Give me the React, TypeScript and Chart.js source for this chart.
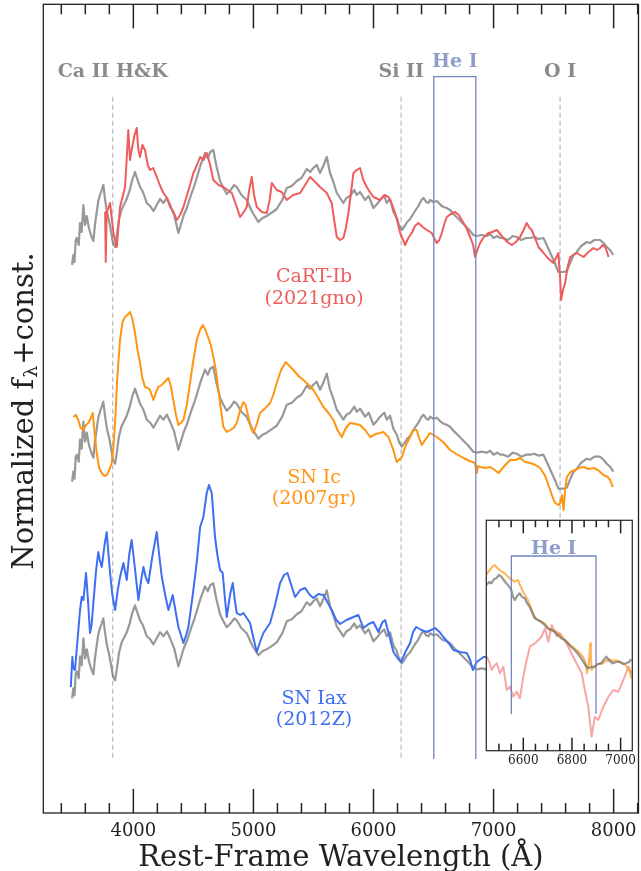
import React, { useEffect, useRef } from 'react';
import { Chart, registerables } from 'chart.js';

Chart.register(...registerables);

const SERIF = '"DejaVu Serif", "Liberation Serif", serif';

// ---------------- main panel data ----------------
// comparison spectrum (gray), wavelength in Angstrom, normalized flux (top copy)
const grayWave = [3490, 3500, 3510, 3520, 3529, 3545, 3556, 3570, 3584, 3598, 3612, 3630, 3650, 3667, 3680, 3695, 3708, 3722, 3737, 3750, 3765, 3780, 3800, 3815, 3830, 3848, 3862, 3880, 3900, 3920, 3945, 3970, 3990, 4014, 4030, 4056, 4080, 4112, 4140, 4167, 4195, 4222, 4250, 4280, 4306, 4340, 4375, 4395, 4420, 4445, 4480, 4510, 4528, 4560, 4597, 4620, 4640, 4666, 4690, 4722, 4750, 4778, 4810, 4840, 4861, 4900, 4944, 4990, 5041, 5075, 5111, 5160, 5194, 5240, 5278, 5320, 5361, 5400, 5444, 5472, 5499, 5527, 5555, 5585, 5611, 5638, 5666, 5694, 5722, 5749, 5775, 5805, 5840, 5860, 5888, 5930, 5960, 5999, 6030, 6055, 6090, 6110, 6138, 6166, 6194, 6215, 6236, 6260, 6280, 6305, 6340, 6374, 6400, 6416, 6440, 6458, 6471, 6499, 6527, 6560, 6582, 6610, 6638, 6666, 6700, 6749, 6790, 6832, 6860, 6900, 6943, 6971, 7000, 7030, 7055, 7082, 7120, 7160, 7193, 7230, 7270, 7304, 7340, 7375, 7415, 7450, 7480, 7510, 7540, 7560, 7582, 7610, 7640, 7666, 7693, 7730, 7776, 7804, 7840, 7887, 7915, 7943, 7970, 7998];
const grayFlux = [5.48, 5.58, 5.51, 5.73, 5.75, 5.68, 5.90, 5.81, 6.08, 5.88, 5.97, 5.85, 5.77, 5.72, 5.88, 6.01, 6.12, 6.18, 6.23, 6.28, 6.13, 6.01, 5.91, 5.81, 5.70, 5.66, 5.77, 5.93, 6.03, 6.08, 6.14, 6.23, 6.33, 6.41, 6.35, 6.26, 6.21, 6.10, 6.07, 6.02, 6.08, 6.14, 6.10, 6.15, 6.08, 5.98, 5.80, 5.88, 5.98, 6.05, 6.18, 6.28, 6.35, 6.48, 6.60, 6.55, 6.61, 6.63, 6.48, 6.32, 6.25, 6.19, 6.23, 6.28, 6.26, 6.18, 6.13, 6.01, 5.91, 5.95, 5.97, 6.01, 6.04, 6.13, 6.25, 6.27, 6.32, 6.35, 6.44, 6.41, 6.45, 6.48, 6.40, 6.48, 6.56, 6.40, 6.31, 6.20, 6.15, 6.10, 6.15, 6.17, 6.23, 6.18, 6.21, 6.13, 6.17, 6.05, 6.09, 6.13, 6.17, 6.10, 6.14, 6.01, 5.95, 5.87, 5.83, 5.87, 5.91, 5.94, 6.01, 6.07, 6.13, 6.15, 6.11, 6.10, 6.13, 6.11, 6.12, 6.08, 6.06, 6.05, 6.03, 5.99, 5.95, 5.89, 5.84, 5.78, 5.77, 5.78, 5.77, 5.79, 5.75, 5.77, 5.75, 5.75, 5.73, 5.77, 5.76, 5.73, 5.75, 5.75, 5.76, 5.74, 5.75, 5.66, 5.58, 5.50, 5.41, 5.41, 5.41, 5.42, 5.51, 5.58, 5.61, 5.67, 5.71, 5.70, 5.73, 5.73, 5.70, 5.66, 5.63, 5.58];
// constants added to the gray spectrum for each comparison row
const grayOffsets = [0, -2.167, -4.333];

// CaRT-Ib (2021gno)
const cartWave = [3765, 3770, 3778, 3806, 3834, 3862, 3889, 3931, 3958, 3972, 3986, 4010, 4028, 4042, 4056, 4075, 4097, 4120, 4139, 4165, 4195, 4220, 4250, 4280, 4306, 4335, 4361, 4390, 4417, 4460, 4500, 4530, 4556, 4585, 4611, 4640, 4666, 4710, 4750, 4785, 4820, 4855, 4889, 4920, 4944, 4965, 4986, 5005, 5028, 5070, 5111, 5135, 5153, 5194, 5235, 5278, 5330, 5389, 5430, 5472, 5515, 5555, 5611, 5652, 5675, 5694, 5720, 5749, 5770, 5791, 5833, 5860, 5888, 5915, 5944, 5970, 5999, 6055, 6090, 6124, 6150, 6180, 6200, 6222, 6263, 6290, 6319, 6345, 6374, 6410, 6444, 6485, 6505, 6527, 6548, 6569, 6590, 6610, 6645, 6680, 6710, 6735, 6770, 6805, 6830, 6846, 6865, 6888, 6920, 6957, 6990, 7027, 7055, 7082, 7115, 7152, 7185, 7221, 7250, 7276, 7300, 7318, 7345, 7374, 7410, 7443, 7470, 7499, 7520, 7540, 7555, 7562, 7578, 7596, 7615, 7638, 7665, 7693, 7720, 7749, 7790, 7832, 7860, 7887, 7910, 7929, 7945, 7957];
const cartFlux = [6.01, 5.51, 6.00, 6.10, 5.80, 5.66, 6.06, 6.26, 6.83, 6.53, 6.63, 6.78, 6.85, 6.63, 6.56, 6.68, 6.63, 6.48, 6.43, 6.45, 6.36, 6.28, 6.20, 6.15, 6.06, 6.01, 5.93, 5.98, 6.06, 6.23, 6.40, 6.48, 6.56, 6.53, 6.60, 6.48, 6.33, 6.28, 6.26, 6.23, 6.20, 6.08, 5.96, 6.01, 6.06, 6.23, 6.36, 6.18, 6.06, 6.01, 6.00, 6.13, 6.30, 6.23, 6.21, 6.13, 6.18, 6.20, 6.28, 6.36, 6.31, 6.26, 6.20, 6.10, 5.91, 5.76, 5.73, 5.75, 5.85, 6.00, 6.40, 6.43, 6.45, 6.33, 6.26, 6.21, 6.16, 6.13, 6.18, 6.16, 6.10, 6.00, 5.91, 5.80, 5.68, 5.75, 5.80, 5.87, 5.90, 5.86, 5.83, 5.80, 5.75, 5.70, 5.73, 5.80, 5.89, 5.96, 5.99, 6.01, 5.98, 5.93, 5.86, 5.76, 5.68, 5.56, 5.63, 5.70, 5.76, 5.80, 5.81, 5.83, 5.79, 5.75, 5.71, 5.68, 5.71, 5.76, 5.83, 5.90, 5.85, 5.83, 5.75, 5.66, 5.61, 5.56, 5.53, 5.50, 5.55, 5.60, 5.33, 5.13, 5.23, 5.30, 5.45, 5.56, 5.58, 5.60, 5.58, 5.56, 5.61, 5.65, 5.63, 5.65, 5.68, 5.66, 5.61, 5.56];

// SN Ic (2007gr)
const icWave = [3500, 3520, 3542, 3560, 3584, 3605, 3625, 3645, 3662, 3675, 3695, 3715, 3737, 3760, 3778, 3800, 3820, 3835, 3848, 3865, 3889, 3910, 3931, 3950, 3972, 3990, 4014, 4035, 4056, 4075, 4097, 4120, 4139, 4167, 4190, 4208, 4235, 4260, 4292, 4310, 4333, 4355, 4375, 4395, 4417, 4445, 4472, 4500, 4528, 4555, 4578, 4600, 4625, 4645, 4666, 4690, 4708, 4730, 4750, 4778, 4806, 4835, 4861, 4890, 4916, 4935, 4958, 4980, 5000, 5025, 5055, 5100, 5139, 5165, 5194, 5230, 5269, 5300, 5333, 5375, 5416, 5460, 5499, 5540, 5583, 5625, 5666, 5700, 5735, 5770, 5805, 5850, 5888, 5930, 5972, 6020, 6083, 6124, 6160, 6194, 6236, 6270, 6305, 6330, 6360, 6380, 6402, 6430, 6471, 6500, 6527, 6580, 6638, 6690, 6749, 6800, 6846, 6855, 6860, 6870, 6888, 6930, 6971, 7010, 7041, 7090, 7138, 7180, 7221, 7260, 7304, 7350, 7388, 7430, 7471, 7500, 7513, 7540, 7554, 7570, 7582, 7596, 7610, 7640, 7679, 7710, 7749, 7790, 7832, 7870, 7915, 7950, 7971, 7993];
const icFlux = [3.96, 3.98, 3.93, 3.85, 3.83, 3.88, 3.90, 3.95, 4.00, 3.83, 3.60, 3.45, 3.40, 3.37, 3.38, 3.43, 3.50, 3.68, 3.90, 4.33, 4.73, 4.91, 4.96, 4.98, 5.01, 4.95, 4.80, 4.63, 4.50, 4.35, 4.26, 4.25, 4.23, 4.13, 4.21, 4.26, 4.28, 4.31, 4.35, 4.28, 4.13, 3.98, 3.88, 3.90, 3.93, 4.08, 4.30, 4.53, 4.73, 4.83, 4.88, 4.83, 4.75, 4.68, 4.56, 4.41, 4.23, 4.03, 3.86, 3.81, 3.83, 3.85, 3.90, 4.03, 4.11, 4.08, 3.96, 3.85, 3.80, 3.88, 4.00, 4.05, 4.10, 4.18, 4.30, 4.43, 4.51, 4.47, 4.43, 4.37, 4.33, 4.28, 4.23, 4.15, 4.06, 4.00, 3.93, 3.83, 3.76, 3.85, 3.90, 3.89, 3.88, 3.83, 3.76, 3.79, 3.81, 3.76, 3.65, 3.51, 3.56, 3.68, 3.76, 3.83, 3.83, 3.75, 3.68, 3.73, 3.80, 3.78, 3.76, 3.71, 3.63, 3.59, 3.55, 3.52, 3.50, 3.43, 3.40, 3.47, 3.46, 3.45, 3.46, 3.43, 3.40, 3.47, 3.53, 3.53, 3.55, 3.51, 3.50, 3.48, 3.45, 3.37, 3.23, 3.13, 3.10, 3.08, 3.10, 3.18, 3.03, 3.23, 3.36, 3.41, 3.43, 3.45, 3.46, 3.44, 3.45, 3.43, 3.38, 3.36, 3.33, 3.26];

// SN Iax (2012Z)
const iaxWave = [3479, 3492, 3500, 3514, 3528, 3542, 3556, 3570, 3584, 3606, 3622, 3639, 3652, 3667, 3690, 3708, 3720, 3737, 3760, 3778, 3790, 3806, 3825, 3848, 3870, 3889, 3917, 3945, 3965, 3986, 4010, 4042, 4065, 4084, 4105, 4125, 4160, 4195, 4215, 4237, 4265, 4292, 4328, 4350, 4375, 4417, 4440, 4458, 4480, 4500, 4530, 4556, 4583, 4611, 4630, 4653, 4680, 4700, 4722, 4744, 4760, 4778, 4805, 4828, 4845, 4861, 4890, 4916, 4945, 4972, 5000, 5028, 5055, 5083, 5139, 5180, 5222, 5255, 5283, 5315, 5347, 5390, 5430, 5470, 5499, 5540, 5583, 5620, 5652, 5690, 5722, 5775, 5833, 5874, 5916, 5960, 5999, 6041, 6075, 6097, 6130, 6166, 6200, 6230, 6265, 6305, 6330, 6355, 6400, 6444, 6480, 6513, 6550, 6582, 6625, 6666, 6720, 6777, 6805, 6827, 6860, 6916, 6960, 7000];
const iaxFlux = [1.26, 1.56, 1.45, 1.43, 1.63, 1.83, 2.03, 2.16, 2.13, 2.40, 2.13, 1.80, 1.88, 2.10, 2.43, 2.61, 2.53, 2.46, 2.68, 2.81, 2.63, 2.40, 2.18, 2.03, 2.23, 2.36, 2.50, 2.33, 2.58, 2.73, 2.48, 2.13, 2.33, 2.46, 2.35, 2.30, 2.58, 2.81, 2.58, 2.36, 2.18, 2.03, 2.18, 2.03, 1.86, 1.70, 1.78, 1.86, 2.05, 2.23, 2.53, 2.86, 2.96, 3.20, 3.28, 3.20, 2.76, 2.58, 2.43, 2.40, 2.18, 1.96, 2.18, 2.30, 2.13, 2.00, 1.98, 2.00, 1.95, 1.90, 1.75, 1.61, 1.71, 1.80, 1.90, 2.08, 2.30, 2.38, 2.40, 2.28, 2.16, 2.23, 2.25, 2.18, 2.15, 2.19, 2.18, 2.10, 2.03, 1.93, 1.89, 1.93, 1.96, 1.98, 1.85, 1.89, 1.91, 1.81, 1.91, 1.93, 1.78, 1.61, 1.55, 1.51, 1.61, 1.70, 1.81, 1.86, 1.83, 1.81, 1.83, 1.85, 1.81, 1.76, 1.70, 1.63, 1.61, 1.60, 1.53, 1.43, 1.51, 1.56, 1.56, 1.55];

// axis ticks
const xMin = 3250;
const xMax = 8207;
const yMax = 8.087;
const majorTicks = [4000, 5000, 6000, 7000, 8000];
const minorTicks = [3400, 3600, 3800, 4200, 4400, 4600, 4800, 5200, 5400, 5600, 5800, 6200, 6400, 6600, 6800, 7200, 7400, 7600, 7800, 8200];

// line identifications
const lineNames = ['Ca II H&K', 'Si II', 'O I'];
const lineWaves = [3828, 6230, 7554];
const heBand = [6502, 6852];
const specNames = [['CaRT-Ib', '(2021gno)'], ['SN Ic', '(2007gr)'], ['SN Iax', '(2012Z)']];
const specLabelY = [[5.315, 5.095], [3.305, 3.095], [1.095, 0.885]];
const specLabelWave = 5505;

// ---------------- inset data ----------------
const insetMin = 6448;
const insetMax = 7048;
const insetYMax = 2.304;
const insetMajor = [6600, 6800, 7000];
const insetMinor = [6500, 6550, 6650, 6700, 6750, 6850, 6900, 6950];
const insetHeBand = [6551, 6899];

const insetGrayWave = [6448, 6460, 6469, 6480, 6489, 6500, 6510, 6520, 6530, 6540, 6551, 6558, 6565, 6575, 6585, 6595, 6606, 6615, 6626, 6636, 6647, 6660, 6674, 6688, 6701, 6715, 6729, 6742, 6756, 6770, 6784, 6797, 6811, 6825, 6838, 6852, 6866, 6880, 6893, 6906, 6920, 6930, 6941, 6955, 6968, 6982, 6996, 7010, 7023, 7035, 7044];
const insetGrayFlux = [1.657, 1.687, 1.674, 1.717, 1.724, 1.757, 1.74, 1.707, 1.674, 1.647, 1.607, 1.537, 1.507, 1.547, 1.574, 1.537, 1.524, 1.477, 1.44, 1.387, 1.324, 1.307, 1.29, 1.257, 1.224, 1.207, 1.19, 1.157, 1.124, 1.107, 1.074, 1.037, 1.007, 0.967, 0.924, 0.867, 0.824, 0.837, 0.84, 0.867, 0.874, 0.907, 0.94, 0.897, 0.874, 0.887, 0.89, 0.867, 0.874, 0.887, 0.914];

const insetIcWave = [6448, 6455, 6462, 6472, 6483, 6493, 6503, 6514, 6524, 6534, 6544, 6555, 6565, 6578, 6588, 6599, 6609, 6619, 6630, 6640, 6650, 6660, 6675, 6688, 6698, 6708, 6722, 6736, 6750, 6763, 6777, 6791, 6805, 6818, 6832, 6845, 6855, 6862, 6867, 6870, 6875, 6878, 6881, 6890, 6900, 6913, 6927, 6940, 6955, 6968, 6982, 6996, 7009, 7020, 7030, 7038, 7044];
const insetIcFlux = [1.757, 1.787, 1.807, 1.837, 1.857, 1.827, 1.807, 1.787, 1.774, 1.747, 1.724, 1.707, 1.69, 1.707, 1.647, 1.59, 1.547, 1.507, 1.437, 1.374, 1.327, 1.307, 1.287, 1.274, 1.237, 1.207, 1.207, 1.19, 1.157, 1.124, 1.097, 1.057, 1.037, 1.007, 0.977, 0.94, 0.887, 0.774, 0.857, 0.907, 1.074, 0.957, 0.807, 0.837, 0.857, 0.867, 0.874, 0.897, 0.914, 0.897, 0.907, 0.887, 0.874, 0.857, 0.824, 0.787, 0.724];

const insetCartWave = [6450, 6460, 6470, 6480, 6491, 6504, 6518, 6532, 6545, 6559, 6573, 6586, 6600, 6614, 6627, 6648, 6662, 6675, 6689, 6703, 6717, 6737, 6750, 6764, 6785, 6805, 6826, 6840, 6853, 6867, 6881, 6894, 6908, 6929, 6950, 6970, 6991, 7011, 7032, 7046];
const insetCartFlux = [0.94, 0.887, 0.807, 0.847, 0.874, 0.774, 0.84, 0.607, 0.64, 0.54, 0.59, 0.524, 0.74, 0.907, 1.04, 1.074, 1.107, 1.14, 1.224, 1.09, 1.257, 1.14, 1.177, 1.124, 1.04, 0.94, 0.84, 0.774, 0.607, 0.44, 0.14, 0.34, 0.307, 0.44, 0.54, 0.607, 0.59, 0.707, 0.84, 0.774];

// ---------------- styles ----------------
const RED = '#EE5C5C';
const ORANGE = '#FF9512';
const BLUE = '#3E6EF2';
const GRAY = 'rgba(112,112,112,0.72)';
const HE_LINE = '#7386C4';
const HE_TEXT = '#8E9DCC';
const ID_TEXT = '#8A8A8A';
const DASH = '#BDBDBD';

const markTop = 7.163;
const markBottom = 0.54;
const heTop = 7.363;
const idLabelY = 7.357;
const heLabelY = 7.457;

const insetHeTop = 1.947;
const insetHeBottom = 0.367;
const insetHeLabelY = 1.964;

function series(wave: number[], flux: number[], offset: number) {
  return wave.map((w, i) => ({ x: w, y: flux[i] + offset }));
}

function ds(data: any[], color: string, order: number, width = 2) {
  return {
    data,
    borderColor: color,
    borderWidth: width,
    pointRadius: 0,
    tension: 0,
    fill: false,
    order,
    borderJoinStyle: 'round',
  };
}

// inward ticks on the top and bottom spines
function drawTicks(chart: any, majors: number[], minors: number[], majLen: number, minLen: number) {
  const ctx: CanvasRenderingContext2D = chart.ctx;
  const x = chart.scales.x;
  const area = chart.chartArea;
  const all: [number, number][] = [];
  majors.forEach((w) => all.push([w, majLen]));
  minors.forEach((w) => all.push([w, minLen]));
  ctx.save();
  ctx.fillStyle = '#222222';
  all.forEach(([w, len]) => {
    const px = x.getPixelForValue(w);
    if (px < area.left - 1 || px > area.right + 1) return;
    ctx.fillRect(px - 0.75, area.top, 1.5, len);
    ctx.fillRect(px - 0.75, area.bottom - len, 1.5, len);
  });
  ctx.restore();
}

const mainDecor = {
  id: 'mainDecor',
  beforeDatasetsDraw(chart: any) {
    const { ctx, scales } = chart;
    const x = scales.x;
    const y = scales.y;
    ctx.save();
    ctx.strokeStyle = DASH;
    ctx.lineWidth = 1.3;
    ctx.setLineDash([5, 3]);
    lineWaves.forEach((w) => {
      const px = x.getPixelForValue(w);
      ctx.beginPath();
      ctx.moveTo(px, y.getPixelForValue(markTop));
      ctx.lineTo(px, y.getPixelForValue(markBottom));
      ctx.stroke();
    });
    ctx.restore();
  },
  afterDraw(chart: any) {
    const { ctx, chartArea: area, scales } = chart;
    const x = scales.x;
    const y = scales.y;
    ctx.save();
    ctx.setLineDash([]);
    // He I band
    ctx.strokeStyle = HE_LINE;
    ctx.lineWidth = 1.3;
    const h0 = x.getPixelForValue(heBand[0]);
    const h1 = x.getPixelForValue(heBand[1]);
    const ht = y.getPixelForValue(heTop);
    const hb = y.getPixelForValue(markBottom);
    ctx.beginPath();
    ctx.moveTo(h0, hb);
    ctx.lineTo(h0, ht);
    ctx.lineTo(h1, ht);
    ctx.lineTo(h1, hb);
    ctx.stroke();

    // identification labels
    ctx.textAlign = 'center';
    ctx.textBaseline = 'alphabetic';
    ctx.font = `bold 19px ${SERIF}`;
    ctx.fillStyle = ID_TEXT;
    lineNames.forEach((n, i) => {
      ctx.fillText(n, x.getPixelForValue(lineWaves[i]), y.getPixelForValue(idLabelY));
    });
    ctx.fillStyle = HE_TEXT;
    ctx.fillText('He I', (h0 + h1) / 2, y.getPixelForValue(heLabelY));

    // spectrum labels
    ctx.font = `19px ${SERIF}`;
    const cols = [RED, ORANGE, BLUE];
    specNames.forEach((pair, i) => {
      ctx.fillStyle = cols[i];
      pair.forEach((t, j) => {
        ctx.fillText(t, x.getPixelForValue(specLabelWave), y.getPixelForValue(specLabelY[i][j]));
      });
    });

    // frame
    ctx.strokeStyle = '#222';
    ctx.lineWidth = 1.3;
    ctx.strokeRect(area.left, area.top, area.right - area.left, area.bottom - area.top);
    ctx.restore();

    drawTicks(chart, majorTicks, minorTicks, 24, 10);

    ctx.save();
    ctx.fillStyle = '#222';
    ctx.textAlign = 'center';
    ctx.textBaseline = 'alphabetic';
    ctx.font = `18px ${SERIF}`;
    majorTicks.forEach((w) => {
      ctx.fillText(String(w), x.getPixelForValue(w), area.bottom + 22.5);
    });
    ctx.font = `29px ${SERIF}`;
    ctx.fillText('Rest-Frame Wavelength (\u00C5)', (area.left + area.right) / 2, area.bottom + 53);

    // y title with subscript lambda
    ctx.translate(33, 411);
    ctx.rotate(-Math.PI / 2);
    ctx.textAlign = 'left';
    const t1 = 'Normalized f';
    const t3 = '+const.';
    ctx.font = `29px ${SERIF}`;
    const w1 = ctx.measureText(t1).width;
    const w3 = ctx.measureText(t3).width;
    ctx.font = `19px ${SERIF}`;
    const w2 = ctx.measureText('\u03BB').width;
    const total = w1 + w2 + w3 + 2;
    let cx = -total / 2;
    ctx.font = `29px ${SERIF}`;
    ctx.fillText(t1, cx, 0);
    cx += w1 + 1;
    ctx.font = `19px ${SERIF}`;
    ctx.fillText('\u03BB', cx, 4);
    cx += w2 + 1;
    ctx.font = `29px ${SERIF}`;
    ctx.fillText(t3, cx, 0);
    ctx.restore();
  },
};

const insetDecor = {
  id: 'insetDecor',
  beforeDraw(chart: any) {
    const { ctx, chartArea: a } = chart;
    ctx.save();
    ctx.fillStyle = '#ffffff';
    ctx.fillRect(a.left, a.top, a.right - a.left, a.bottom - a.top);
    ctx.restore();
  },
  afterDraw(chart: any) {
    const { ctx, chartArea: area, scales } = chart;
    const x = scales.x;
    const y = scales.y;
    ctx.save();
    ctx.setLineDash([]);
    ctx.strokeStyle = HE_LINE;
    ctx.lineWidth = 1.3;
    const h0 = x.getPixelForValue(insetHeBand[0]);
    const h1 = x.getPixelForValue(insetHeBand[1]);
    const ht = y.getPixelForValue(insetHeTop);
    const hb = y.getPixelForValue(insetHeBottom);
    ctx.beginPath();
    ctx.moveTo(h0, hb);
    ctx.lineTo(h0, ht);
    ctx.lineTo(h1, ht);
    ctx.lineTo(h1, hb);
    ctx.stroke();
    ctx.textAlign = 'center';
    ctx.textBaseline = 'alphabetic';
    ctx.font = `bold 19px ${SERIF}`;
    ctx.fillStyle = HE_TEXT;
    ctx.fillText('He I', (h0 + h1) / 2, y.getPixelForValue(insetHeLabelY));

    ctx.strokeStyle = '#333';
    ctx.lineWidth = 1.3;
    ctx.strokeRect(area.left, area.top, area.right - area.left, area.bottom - area.top);
    ctx.restore();

    drawTicks(chart, insetMajor, insetMinor, 13, 7);

    ctx.save();
    ctx.fillStyle = '#222';
    ctx.textAlign = 'center';
    ctx.textBaseline = 'alphabetic';
    ctx.font = `12px ${SERIF}`;
    insetMajor.forEach((w) => {
      ctx.fillText(String(w), x.getPixelForValue(w), area.bottom + 13.5);
    });
    ctx.restore();
  },
};

export default function App() {
  const mainRef = useRef<HTMLCanvasElement>(null);
  const insetRef = useRef<HTMLCanvasElement>(null);

  useEffect(() => {
    const main = new Chart(mainRef.current as HTMLCanvasElement, {
      type: 'line',
      data: {
        datasets: [
          ds(series(grayWave, grayFlux, grayOffsets[0]), GRAY, 2, 2.2),
          ds(series(cartWave, cartFlux, 0), RED, 1),
          ds(series(grayWave, grayFlux, grayOffsets[1]), GRAY, 2, 2.2),
          ds(series(icWave, icFlux, 0), ORANGE, 1),
          ds(series(grayWave, grayFlux, grayOffsets[2]), GRAY, 2, 2.2),
          ds(series(iaxWave, iaxFlux, 0), BLUE, 1),
        ] as any,
      },
      options: {
        responsive: false,
        devicePixelRatio: 1,
        animation: false,
        events: [],
        layout: { padding: { left: 43.3, top: 4.3, right: 2.5, bottom: 58 } },
        plugins: { legend: { display: false }, tooltip: { enabled: false } },
        scales: {
          x: { type: 'linear', min: xMin, max: xMax, display: false },
          y: { type: 'linear', min: 0, max: yMax, display: false },
        },
      } as any,
      plugins: [mainDecor],
    });

    const inset = new Chart(insetRef.current as HTMLCanvasElement, {
      type: 'line',
      data: {
        datasets: [
          ds(series(insetCartWave, insetCartFlux, 0), 'rgba(238,92,92,0.55)', 3),
          ds(series(insetIcWave, insetIcFlux, 0), 'rgba(255,149,18,0.7)', 2),
          ds(series(insetGrayWave, insetGrayFlux, 0), GRAY, 1, 2.2),
        ] as any,
      },
      options: {
        responsive: false,
        devicePixelRatio: 1,
        animation: false,
        events: [],
        layout: { padding: { left: 6.3, top: 15.3, right: 8.7, bottom: 20.3 } },
        plugins: { legend: { display: false }, tooltip: { enabled: false } },
        scales: {
          x: { type: 'linear', min: insetMin, max: insetMax, display: false },
          y: { type: 'linear', min: 0, max: insetYMax, display: false },
        },
      } as any,
      plugins: [insetDecor],
    });

    return () => {
      main.destroy();
      inset.destroy();
    };
  }, []);

  return (
    <div style={{ position: 'absolute', left: 0, top: 0, width: 641, height: 871, background: '#fff' }}>
      <canvas
        ref={mainRef}
        width={641}
        height={871}
        style={{ position: 'absolute', left: 0, top: 0, width: 641, height: 871 }}
      />
      <canvas
        ref={insetRef}
        width={161}
        height={266}
        style={{ position: 'absolute', left: 480, top: 505, width: 161, height: 266 }}
      />
    </div>
  );
}
